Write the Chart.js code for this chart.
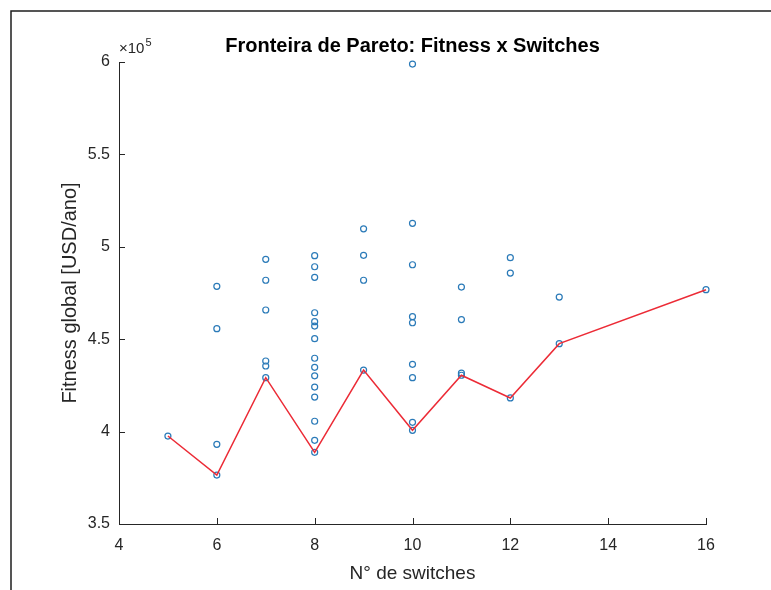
<!DOCTYPE html>
<html>
<head>
<meta charset="utf-8">
<title>Fronteira de Pareto: Fitness x Switches</title>
<script src="https://cdn.jsdelivr.net/npm/chart.js@4/dist/chart.umd.min.js"></script>
<style>
  html, body { margin: 0; padding: 0; background: #ffffff; }
  #wrap { width: 771px; height: 590px; }
</style>
</head>
<body>
<div id="wrap"><canvas id="chart" width="771" height="590"></canvas></div>
<script>
// All evaluated solutions: number of switches and global fitness (USD/ano)
const switchCounts = [
  5,
  6, 6, 6, 6,
  7, 7, 7, 7, 7, 7,
  8, 8, 8, 8, 8, 8, 8, 8, 8, 8, 8, 8, 8, 8, 8,
  9, 9, 9, 9,
  10, 10, 10, 10, 10, 10, 10, 10, 10,
  11, 11, 11, 11,
  12, 12, 12,
  13, 13,
  16
];
const fitnessValues = [
  397600,
  478600, 455700, 393100, 376500,
  493200, 481900, 465800, 438200, 435500, 429200,
  495200, 489200, 483500, 464300, 459500, 457100, 450300, 439700, 434800, 430200, 424100, 418700, 405600, 395300, 388800,
  509700, 495400, 481900, 433300,
  598900, 512700, 490300, 462200, 458900, 436400, 429200, 405000, 400700,
  478200, 460600, 431600, 430500,
  494100, 485800, 418200,
  472800, 447600,
  476800
];

// Pareto front (best fitness for each switch count)
const paretoSwitches = [5, 6, 7, 8, 9, 10, 11, 12, 13, 16];
const paretoFitness = [397600, 376500, 429200, 388800, 433300, 400700, 430500, 418200, 447600, 476800];

// Axis ticks
const xTicks = [4, 6, 8, 10, 12, 14, 16];
const yTicks = [350000, 400000, 450000, 500000, 550000, 600000];
const yExponent = 5;

const chartTitle = 'Fronteira de Pareto: Fitness x Switches';
const xTitle = 'N\u00B0 de switches';
const yTitle = 'Fitness global [USD/ano]';

const FONT = '"Liberation Sans", Arial, Helvetica, sans-serif';
const AXIS_COLOR = '#262626';

const scatterPoints = switchCounts.map((s, i) => ({ x: s, y: fitnessValues[i] }));
const paretoPoints = paretoSwitches.map((s, i) => ({ x: s, y: paretoFitness[i] }));

// Inward tick marks, figure frame, title and exponent label
const decorations = {
  id: 'decorations',
  beforeDraw(chart) {
    const ctx = chart.ctx;
    ctx.save();
    ctx.fillStyle = '#ffffff';
    ctx.fillRect(0, 0, chart.width, chart.height);
    // figure window frame
    ctx.strokeStyle = '#1e1e1e';
    ctx.lineWidth = 1.5;
    ctx.beginPath();
    ctx.moveTo(11, chart.height);
    ctx.lineTo(11, 11);
    ctx.lineTo(chart.width, 11);
    ctx.stroke();
    ctx.restore();
  },
  afterDraw(chart) {
    const ctx = chart.ctx;
    const area = chart.chartArea;
    const xs = chart.scales.x;
    const ys = chart.scales.y;
    ctx.save();
    ctx.strokeStyle = AXIS_COLOR;
    ctx.lineWidth = 1;
    ctx.beginPath();
    xTicks.forEach(v => {
      const px = Math.round(xs.getPixelForValue(v)) + 0.5;
      ctx.moveTo(px, area.bottom);
      ctx.lineTo(px, area.bottom - 6);
    });
    yTicks.forEach(v => {
      const py = Math.round(ys.getPixelForValue(v)) + 0.5;
      ctx.moveTo(area.left, py);
      ctx.lineTo(area.left + 6, py);
    });
    ctx.stroke();

    // title
    ctx.fillStyle = '#000000';
    ctx.font = 'bold 20px ' + FONT;
    ctx.textAlign = 'center';
    ctx.textBaseline = 'middle';
    ctx.fillText(chartTitle, (area.left + area.right) / 2, 46);

    // exponent label above the y axis
    ctx.fillStyle = AXIS_COLOR;
    ctx.textAlign = 'left';
    ctx.textBaseline = 'alphabetic';
    ctx.font = '15px ' + FONT;
    const base = '\u00D710';
    ctx.fillText(base, area.left, 53);
    const w = ctx.measureText(base).width;
    ctx.font = '11px ' + FONT;
    ctx.fillText(String(yExponent), area.left + w + 1, 46);
    ctx.restore();
  }
};

new Chart(document.getElementById('chart'), {
  type: 'scatter',
  data: {
    datasets: [
      {
        label: 'Fronteira de Pareto',
        data: paretoPoints,
        showLine: true,
        borderColor: '#ec2b36',
        borderWidth: 1.5,
        pointRadius: 0,
        fill: false,
        clip: false,
        order: 1
      },
      {
        label: 'Solu\u00E7\u00F5es',
        data: scatterPoints,
        pointStyle: 'circle',
        pointRadius: 3,
        borderWidth: 1.2,
        borderColor: '#2a7ab8',
        backgroundColor: 'rgba(0,0,0,0)',
        clip: false,
        order: 2
      }
    ]
  },
  options: {
    responsive: false,
    animation: false,
    events: [],
    layout: { padding: { top: 62, right: 65, bottom: 0, left: 0 } },
    plugins: {
      legend: { display: false },
      title: { display: false },
      tooltip: { enabled: false }
    },
    scales: {
      x: {
        type: 'linear',
        min: 4,
        max: 16,
        afterFit(scale) { scale.height = 66; },
        afterBuildTicks(scale) { scale.ticks = xTicks.map(v => ({ value: v })); },
        ticks: {
          padding: 12,
          color: AXIS_COLOR,
          font: { family: FONT, size: 16 },
          maxRotation: 0,
          callback: v => String(v)
        },
        grid: { display: true, drawOnChartArea: false, drawTicks: false, color: 'rgba(0,0,0,0)' },
        border: { display: true, color: AXIS_COLOR, width: 1 },
        title: {
          display: true,
          text: xTitle,
          color: AXIS_COLOR,
          font: { family: FONT, size: 19 },
          padding: { top: 0, bottom: 5 }
        }
      },
      y: {
        type: 'linear',
        min: 350000,
        max: 600000,
        afterFit(scale) { scale.width = 119; },
        afterBuildTicks(scale) { scale.ticks = yTicks.map(v => ({ value: v })); },
        ticks: {
          padding: 9,
          color: AXIS_COLOR,
          font: { family: FONT, size: 16 },
          callback: v => String(v / Math.pow(10, yExponent))
        },
        grid: { display: true, drawOnChartArea: false, drawTicks: false, color: 'rgba(0,0,0,0)' },
        border: { display: true, color: AXIS_COLOR, width: 1 },
        title: {
          display: true,
          text: yTitle,
          color: AXIS_COLOR,
          font: { family: FONT, size: 20 },
          padding: { top: 58, bottom: 0 }
        }
      }
    }
  },
  plugins: [decorations]
});
</script>
</body>
</html>
